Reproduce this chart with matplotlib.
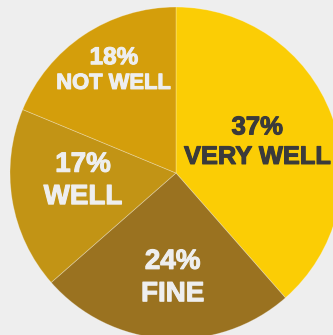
import matplotlib.pyplot as plt
import matplotlib.patheffects as pe

# slice data, clockwise from 12 o'clock
labels = ['VERY WELL', 'FINE', 'WELL', 'NOT WELL']
values = [37, 24, 17, 18]
colors = ['#FBCD05', '#9A7220', '#C29415', '#D49E0B']

# label styling / placement (data coords of the unit pie)
pct_pos = [(0.49, 0.275), (-0.02, -0.535), (-0.56, 0.05), (-0.375, 0.695)]
name_pos = [(0.49, 0.097), (-0.02, -0.73), (-0.56, -0.145), (-0.375, 0.54)]
pct_size = [18.5, 20, 20, 17.5]
name_size = [18.3, 20, 20, 15.8]
text_colors = ['#3B3B3B', '#EEEEEE', '#EEEEEE', '#EEEEEE']

plt.rcParams['font.family'] = ['Liberation Sans', 'DejaVu Sans']

fig = plt.figure(figsize=(3.33, 3.35), dpi=100, facecolor='#EEEEEE')
ax = fig.add_axes([0.03, -0.012, 0.997, 0.991])
ax.set_facecolor('#EEEEEE')

ax.pie(values, colors=colors, startangle=90, counterclock=False, radius=1,
       wedgeprops=dict(edgecolor=(1, 1, 1, 0.3), linewidth=0.6))

for i in range(len(values)):
    # a thin stroke in the same colour makes the text heavier, like the original
    fx = [pe.withStroke(linewidth=0.8, foreground=text_colors[i])]
    ax.text(pct_pos[i][0], pct_pos[i][1], '%d%%' % values[i], ha='center', va='center',
            fontsize=pct_size[i], fontweight='bold', color=text_colors[i], path_effects=fx)
    ax.text(name_pos[i][0], name_pos[i][1], labels[i], ha='center', va='center',
            fontsize=name_size[i], fontweight='bold', color=text_colors[i], path_effects=fx)

ax.set_xlim(-1, 1)
ax.set_ylim(-1, 1)
ax.set_aspect('equal')
ax.axis('off')

fig.savefig('out.png', dpi=100, facecolor='#EEEEEE')
